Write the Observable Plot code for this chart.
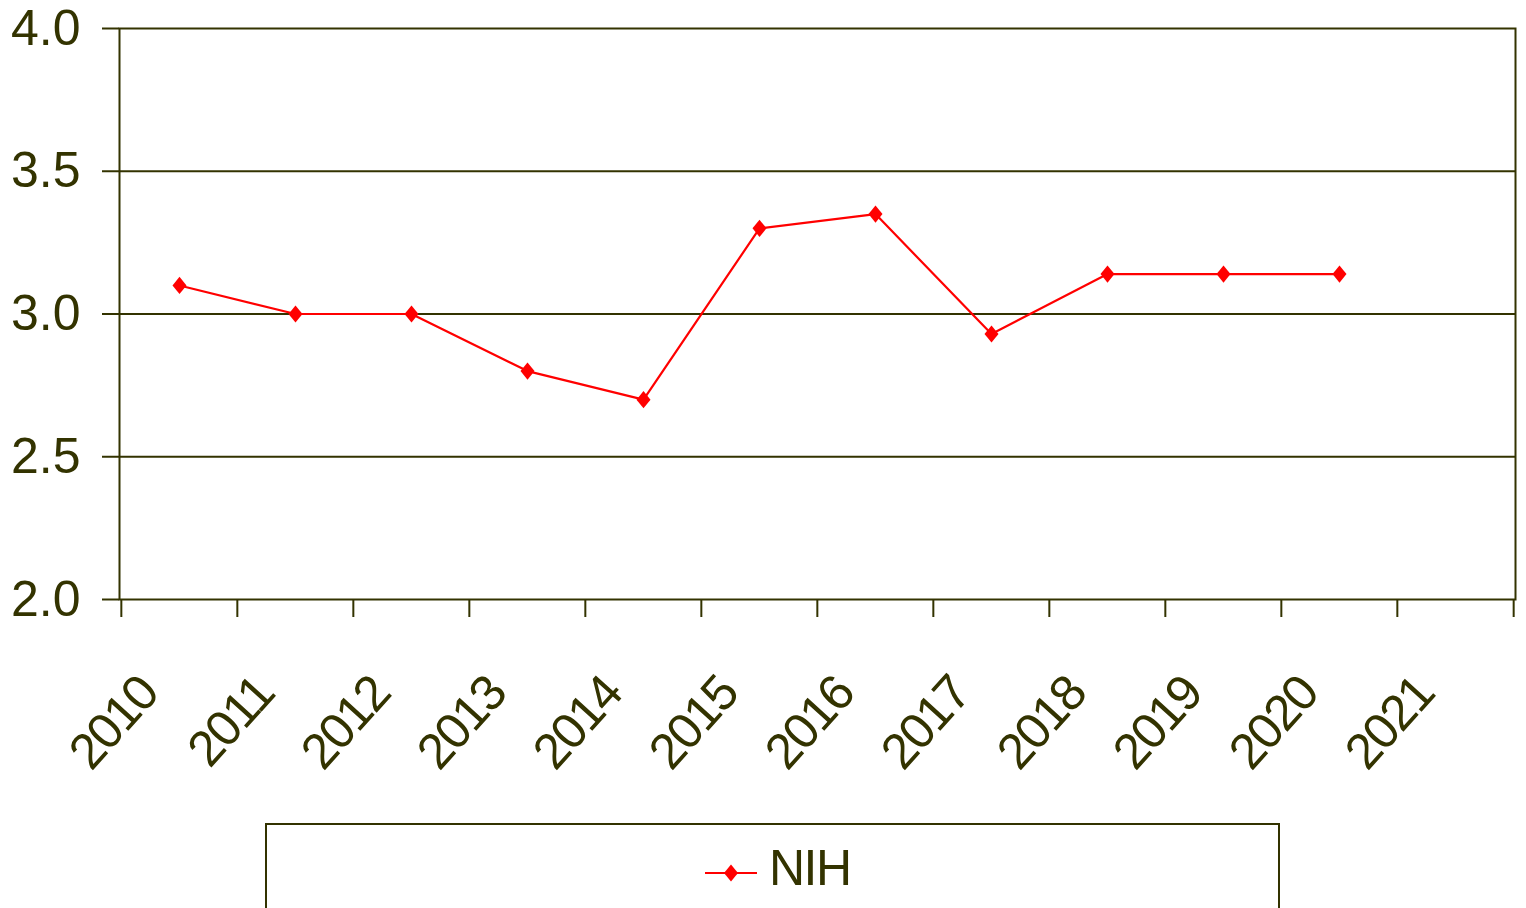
<!DOCTYPE html>
<html>
<head>
<meta charset="utf-8">
<script src="https://cdn.jsdelivr.net/npm/d3@7"></script>
<script src="https://cdn.jsdelivr.net/npm/@observablehq/plot@0.6"></script>
<style>
  html, body { margin: 0; padding: 0; background: #fff; }
  #wrap { position: relative; width: 1526px; height: 908px; overflow: hidden; font-family: 'Liberation Sans', Arial, sans-serif; color: #333300; }
  #legend { position: absolute; left: 265px; top: 823px; width: 1011px; height: 120px; border: 2px solid #333300; border-bottom: none; }
  #legend svg { position: absolute; left: 438px; top: 36px; }
  #legend .lbl { position: absolute; left: 502px; top: 11px; font-size: 50px; line-height: 64px; letter-spacing: -1.5px; }
</style>
</head>
<body>
<div id="wrap"><div id="chart"></div><div id="legend"></div></div>
<script>
const years = ["2010","2011","2012","2013","2014","2015","2016","2017","2018","2019","2020","2021"];
const values = [3.10, 3.00, 3.00, 2.80, 2.70, 3.30, 3.35, 2.93, 3.14, 3.14, 3.14, null];
const yTicks = [2.0, 2.5, 3.0, 3.5, 4.0];
const seriesName = "NIH";

const ink = "#333300";
const red = "#ff0000";
const W = 1526, H = 820, mL = 119, mR = 11, mT = 28, mB = 221;

// diamond marker, slightly taller than wide as in the reference
const diamond = {
  draw(context) {
    const hw = 7, hh = 8.6;
    context.moveTo(0, -hh);
    context.lineTo(hw, 0);
    context.lineTo(0, hh);
    context.lineTo(-hw, 0);
    context.closePath();
  }
};

const data = years.map((y, i) => ({year: y, value: values[i]}));
const bw = (W - mL - mR) / years.length;

const chart = Plot.plot({
  width: W, height: H,
  marginLeft: mL, marginRight: mR, marginTop: mT, marginBottom: mB,
  style: {fontFamily: "'Liberation Sans', Arial, sans-serif", color: ink, background: "white", overflow: "visible"},
  x: {type: "band", domain: years, paddingInner: 0, paddingOuter: 0, label: null},
  y: {domain: [2, 4], label: null},
  marks: [
    Plot.gridY(yTicks.slice(1, -1), {stroke: ink, strokeOpacity: 1, strokeWidth: 2}),
    Plot.frame({stroke: ink, strokeWidth: 2}),
    Plot.axisY({ticks: yTicks, tickFormat: d3.format(".1f"), tickSize: 17, tickPadding: 22, fontSize: 50, stroke: ink, strokeWidth: 2, label: null}),
    Plot.axisX({tickSize: 18, tickFormat: null, dx: -bw / 2, stroke: ink, strokeWidth: 2, label: null}),
    Plot.axisX({ticks: [years[years.length - 1]], tickSize: 18, tickFormat: null, dx: bw / 2, stroke: ink, strokeWidth: 2, label: null}),
    Plot.text(years, {x: d => d, text: d => d, frameAnchor: "bottom", rotate: -48, textAnchor: "end", lineAnchor: "middle", dx: -31, dy: 85, fontSize: 50, fill: ink}),
    Plot.line(data, {x: "year", y: "value", stroke: red, strokeWidth: 2.2}),
    Plot.dot(data.filter(d => d.value != null), {x: "year", y: "value", symbol: diamond, r: 6, fill: red, stroke: "none"})
  ]
});
d3.select(chart).selectAll("g[aria-label=text] text").style("letter-spacing", "-2px");
document.getElementById("chart").appendChild(chart);

// legend
const legend = document.getElementById("legend");
const ls = d3.select(legend).append("svg").attr("width", 54).attr("height", 24);
ls.append("line").attr("x1", 0).attr("x2", 52).attr("y1", 12).attr("y2", 12).attr("stroke", red).attr("stroke-width", 2.2);
ls.append("path").attr("d", d3.symbol(diamond)()).attr("transform", "translate(26,12)").attr("fill", red);
const lbl = document.createElement("div");
lbl.className = "lbl";
lbl.textContent = seriesName;
legend.appendChild(lbl);
</script>
</body>
</html>
